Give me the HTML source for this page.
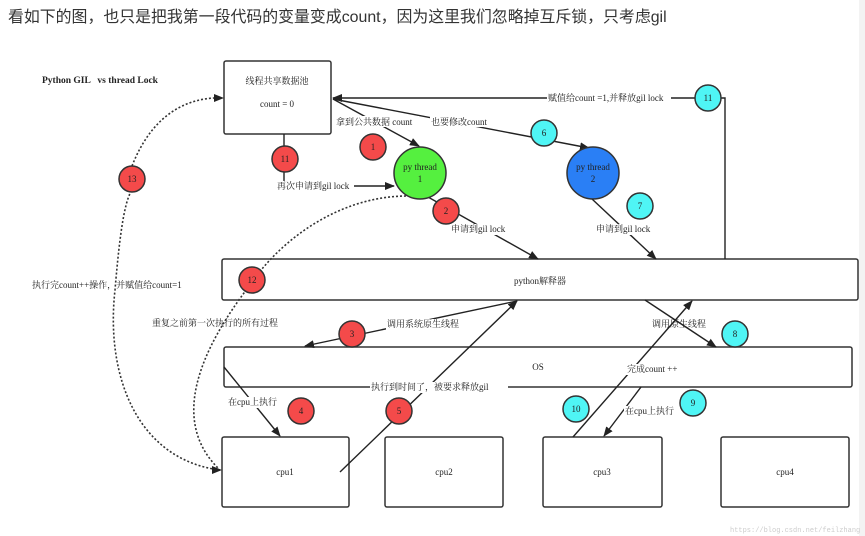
<!DOCTYPE html>
<html><head><meta charset="utf-8"><style>
html,body{margin:0;padding:0;background:#fff;width:865px;height:536px;overflow:hidden}
.h{position:absolute;left:8px;top:4px;font:15.9px "Liberation Sans","Noto Sans CJK SC",sans-serif;color:#333;white-space:nowrap}
svg text{font-family:"Liberation Serif","Noto Serif CJK SC","Noto Sans CJK SC",serif;font-size:9px;fill:#222}
</style></head><body>
<div class="h">看如下的图，也只是把我第一段代码的变量变成count，因为这里我们忽略掉互斥锁，只考虑gil</div>
<svg width="865" height="536" style="position:absolute;left:0;top:0">
<defs><marker id="a" markerWidth="10" markerHeight="8" refX="9" refY="4" orient="auto" markerUnits="userSpaceOnUse"><path d="M0,0L10,4L0,8z" fill="#222"/></marker></defs>
<rect x="859" y="0" width="6" height="536" fill="#f3f3f3"/>
<text x="42" y="83" font-weight="bold" style="white-space:pre;font-size:9.5px">Python GIL   vs thread Lock</text>
<g fill="#fff" stroke="#333" stroke-width="1.5">
<rect x="224" y="61" width="107" height="73" rx="2"/>
<rect x="222" y="259" width="636" height="41" rx="2"/>
<rect x="224" y="347" width="628" height="40" rx="2"/>
<rect x="222" y="437" width="127" height="70" rx="2"/>
<rect x="385" y="437" width="118" height="70" rx="2"/>
<rect x="543" y="437" width="119" height="70" rx="2"/>
<rect x="721" y="437" width="128" height="70" rx="2"/>
</g>
<g stroke="#222" stroke-width="1.4" fill="none">
<polyline points="725,259 725,98 333,98" marker-end="url(#a)"/>
<line x1="333" y1="99" x2="419" y2="146" marker-end="url(#a)"/>
<line x1="333" y1="99" x2="589" y2="148" marker-end="url(#a)"/>
<line x1="284" y1="134" x2="284" y2="181"/>
<line x1="340" y1="186" x2="394" y2="186" marker-end="url(#a)"/>
<line x1="428" y1="197" x2="538" y2="259" marker-end="url(#a)"/>
<line x1="592" y1="199" x2="656" y2="259" marker-end="url(#a)"/>
<line x1="517" y1="301" x2="305" y2="346" marker-end="url(#a)"/>
<line x1="340" y1="472" x2="517" y2="301" marker-end="url(#a)"/>
<line x1="645" y1="300" x2="716" y2="347" marker-end="url(#a)"/>
<line x1="573" y1="437" x2="692" y2="301" marker-end="url(#a)"/>
<line x1="641" y1="387" x2="604" y2="436" marker-end="url(#a)"/>
<line x1="224" y1="367" x2="280" y2="436" marker-end="url(#a)"/>
</g>
<g stroke="#333" stroke-width="1.6" fill="none" stroke-dasharray="2,2">
<path d="M220,470 C140,460 105,380 115,290 C120,230 125,200 132,190"/>
<path d="M132,166 C150,120 180,100 214,98"/>
<path d="M410,196 C340,195 280,240 250,285 C200,350 170,420 218,468"/>
</g>
<path d="M224,98 l-10,-4 v8z M222,470 l-10,-4 v8z" fill="#222"/>
<g stroke="#333" stroke-width="1.5">
<circle cx="420" cy="173" r="26" fill="#55f03f"/>
<circle cx="593" cy="173" r="26" fill="#2a7ff5"/>
<g fill="#f44a4a"><circle cx="373" cy="147" r="13"/><circle cx="285" cy="159" r="13"/><circle cx="446" cy="211" r="13"/><circle cx="132" cy="179" r="13"/><circle cx="252" cy="280" r="13"/><circle cx="352" cy="334" r="13"/><circle cx="301" cy="411" r="13"/><circle cx="399" cy="411" r="13"/></g>
<g fill="#4ff5f5"><circle cx="708" cy="98" r="13"/><circle cx="544" cy="133" r="13"/><circle cx="640" cy="206" r="13"/><circle cx="735" cy="334" r="13"/><circle cx="693" cy="403" r="13"/><circle cx="576" cy="409" r="13"/></g>
</g>
<g text-anchor="middle">
<text x="277" y="84">线程共享数据池</text><text x="277" y="107">count = 0</text>
<text x="420" y="170">py thread</text><text x="420" y="182">1</text>
<text x="593" y="170">py thread</text><text x="593" y="182">2</text>
<text x="540" y="284">python解释器</text><text x="538" y="370">OS</text>
<text x="285" y="475">cpu1</text><text x="444" y="475">cpu2</text><text x="602" y="475">cpu3</text><text x="785" y="475">cpu4</text>
<text x="373" y="150">1</text><text x="285" y="162">11</text><text x="446" y="214">2</text><text x="132" y="182">13</text><text x="252" y="283">12</text><text x="352" y="337">3</text><text x="301" y="414">4</text><text x="399" y="414">5</text>
<text x="708" y="101">11</text><text x="544" y="136">6</text><text x="640" y="209">7</text><text x="735" y="337">8</text><text x="693" y="406">9</text><text x="576" y="412">10</text>
</g>
<g>
<rect x="547" y="92" width="124" height="11" fill="#fff"/><text x="548" y="101">赋值给count =1,并释放gil lock</text>
<rect x="335" y="116" width="84" height="11" fill="#fff"/><text x="336" y="125">拿到公共数据 count</text>
<rect x="430" y="116" width="62" height="11" fill="#fff"/><text x="431" y="125">也要修改count</text>
<rect x="276" y="181" width="78" height="11" fill="#fff"/><text x="277" y="189">再次申请到gil lock</text>
<rect x="450" y="224" width="60" height="11" fill="#fff"/><text x="451" y="232">申请到gil lock</text>
<rect x="595" y="224" width="60" height="11" fill="#fff"/><text x="596" y="232">申请到gil lock</text>
<text x="32" y="288">执行完count++操作，并赋值给count=1</text>
<text x="152" y="326">重复之前第一次执行的所有过程</text>
<rect x="386" y="319" width="80" height="11" fill="#fff"/><text x="387" y="327">调用系统原生线程</text>
<text x="652" y="327">调用原生线程</text>
<rect x="626" y="364" width="58" height="11" fill="#fff"/><text x="627" y="372">完成count ++</text>
<rect x="370" y="382" width="138" height="11" fill="#fff"/><text x="371" y="390">执行到时间了，被要求释放gil</text>
<rect x="227" y="397" width="52" height="11" fill="#fff"/><text x="228" y="405">在cpu上执行</text>
<rect x="624" y="406" width="52" height="11" fill="#fff"/><text x="625" y="414">在cpu上执行</text>
<text x="730" y="532" style="font-size:7px;fill:#ccc;font-family:'Liberation Mono',monospace">https://blog.csdn.net/feilzhang</text>
</g>
</svg>
</body></html>
